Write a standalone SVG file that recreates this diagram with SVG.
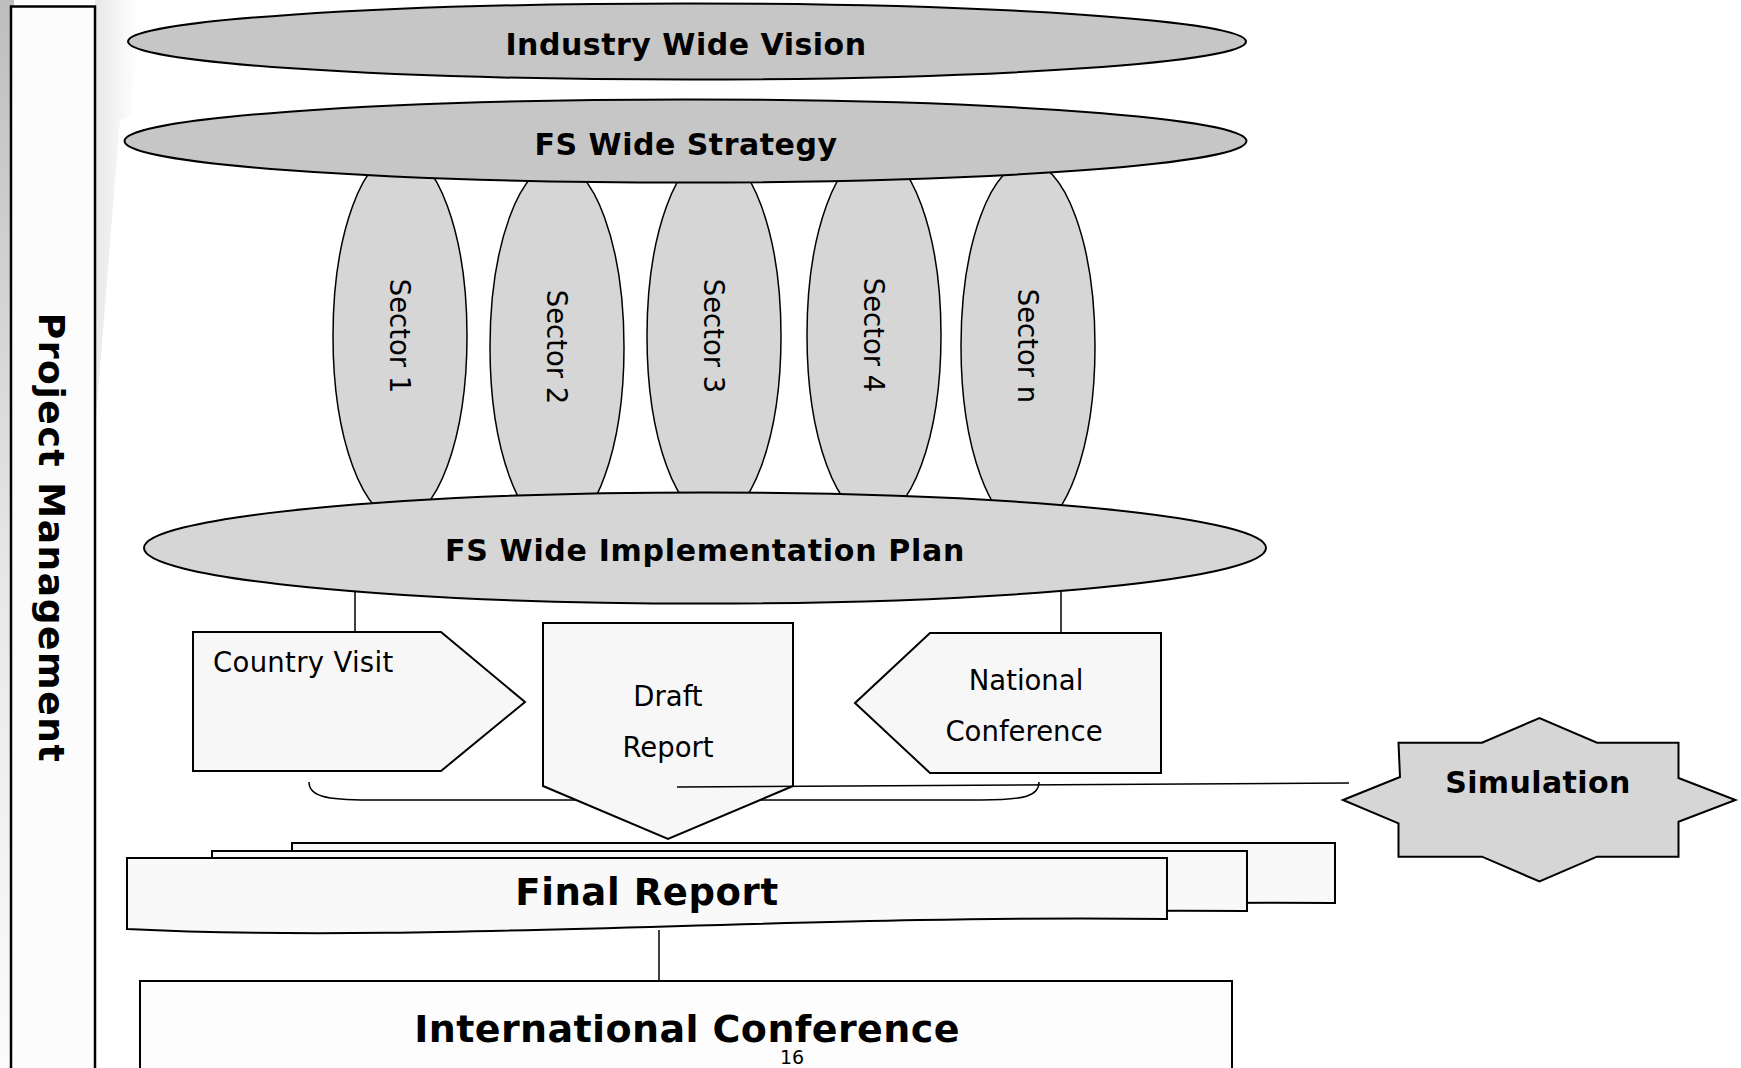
<svg xmlns="http://www.w3.org/2000/svg" width="1741" height="1068" viewBox="0 0 1741 1068">
  <defs>
    <linearGradient id="edge" x1="0" y1="0" x2="0" y2="1">
      <stop offset="0" stop-color="#bebebe"/>
      <stop offset="0.55" stop-color="#e8e8e8"/>
      <stop offset="1" stop-color="#fbfbfb"/>
    </linearGradient>
    <linearGradient id="sheen" x1="0" y1="0" x2="1" y2="0">
      <stop offset="0" stop-color="#e4e4e4"/>
      <stop offset="1" stop-color="#ffffff"/>
    </linearGradient>
    <style>
      .big { fill: #c6c6c6; stroke: #000; stroke-width: 2; }
      .mid { fill: #d6d6d6; stroke: #000; stroke-width: 2; }
      .sec { fill: #d6d6d6; stroke: #000; stroke-width: 1.5; }
      .box { fill: #f7f7f7; stroke: #000; stroke-width: 2; }
      .doc { fill: #f9f9f9; stroke: #000; stroke-width: 2; }
      .line { fill: none; stroke: #000; stroke-width: 1.5; }
      .tb { font-family: "DejaVu Sans", Verdana, sans-serif; font-weight: bold; fill: #000; text-anchor: middle; }
      .tr { font-family: "DejaVu Sans", Verdana, sans-serif; fill: #000; text-anchor: middle; font-size: 27.5px; }
    </style>
  </defs>

  <!-- background -->
  <rect x="0" y="0" width="1741" height="1068" fill="#ffffff"/>
  <rect x="0" y="0" width="14" height="1068" fill="url(#edge)"/>
  <polygon points="95,0 138,0 132,115 120,120 95,430" fill="url(#sheen)" opacity="0.85"/>

  <!-- Project Management -->
  <g id="project-management">
    <rect x="11" y="6.5" width="84" height="1070" fill="#fcfcfc" stroke="#000" stroke-width="2.5"/>
    <text class="tb" font-size="36" letter-spacing="1.6" transform="translate(44,538) rotate(90)" x="0" y="5">Project Management</text>
  </g>

  <!-- Industry Wide Vision -->
  <g id="industry-wide-vision">
    <ellipse class="big" cx="687" cy="41.5" rx="559" ry="38"/>
    <text class="tb" font-size="30" letter-spacing="0.5" x="686" y="55">Industry Wide Vision</text>
  </g>

  <!-- Sectors -->
  <g id="sector-1">
    <ellipse class="sec" cx="400" cy="336" rx="67" ry="184"/>
    <text class="tr" transform="translate(400,336) rotate(90)" x="0" y="10">Sector 1</text>
  </g>
  <g id="sector-2">
    <ellipse class="sec" cx="557" cy="347" rx="67" ry="184"/>
    <text class="tr" transform="translate(557,347) rotate(90)" x="0" y="10">Sector 2</text>
  </g>
  <g id="sector-3">
    <ellipse class="sec" cx="714" cy="336" rx="67" ry="184"/>
    <text class="tr" transform="translate(714,336) rotate(90)" x="0" y="10">Sector 3</text>
  </g>
  <g id="sector-4">
    <ellipse class="sec" cx="874" cy="335" rx="67" ry="184"/>
    <text class="tr" transform="translate(874,335) rotate(90)" x="0" y="10">Sector 4</text>
  </g>
  <g id="sector-n">
    <ellipse class="sec" cx="1028" cy="346" rx="67" ry="184"/>
    <text class="tr" transform="translate(1028,346) rotate(90)" x="0" y="10">Sector n</text>
  </g>

  <!-- FS Wide Strategy -->
  <g id="fs-wide-strategy">
    <ellipse class="big" cx="685.5" cy="141" rx="561" ry="41.5"/>
    <text class="tb" font-size="30" letter-spacing="0.5" x="686" y="155">FS Wide Strategy</text>
  </g>

  <!-- FS Wide Implementation Plan -->
  <g id="fs-wide-implementation-plan">
    <ellipse class="mid" cx="705" cy="548" rx="561" ry="55.5"/>
    <text class="tb" font-size="30" letter-spacing="0.7" x="705" y="561">FS Wide Implementation Plan</text>
  </g>

  <!-- Brace grouping -->
  <g id="brace">
    <path class="line" stroke-width="2" d="M309,782 C309,796 325,800 369,800 L981,800 C1025,800 1039,796 1039,782"/>
  </g>

  <!-- Country Visit -->
  <g id="country-visit">
    <polygon class="box" points="193,632 441,632 525,702 441,771 193,771"/>
    <text class="tr" style="text-anchor:start" font-size="28" letter-spacing="0.3" x="213" y="672">Country Visit</text>
  </g>

  <!-- Draft Report -->
  <g id="draft-report">
    <polygon class="box" points="543,623 793,623 793,786 668,839 543,786"/>
    <text class="tr" x="668" y="706">Draft</text>
    <text class="tr" x="668" y="757">Report</text>
  </g>

  <!-- National Conference -->
  <g id="national-conference">
    <polygon class="box" points="855,703 930,633 1161,633 1161,773 930,773"/>
    <text class="tr" x="1026" y="690">National</text>
    <text class="tr" x="1024" y="741">Conference</text>
  </g>

  <!-- Simulation -->
  <g id="simulation">
    <polygon class="mid" points="1343,800 1400,777 1398.5,742.7 1482,742.7 1539.5,718 1597,742.7 1678.5,742.7 1678.5,778 1735.5,800 1678.5,821.7 1678.5,856.7 1597,856.7 1539.5,881.5 1482,856.7 1398.5,856.7 1398.5,823.3"/>
    <text class="tb" font-size="30" letter-spacing="0.4" x="1538" y="793">Simulation</text>
  </g>

  <!-- Final Report (stacked documents) -->
  <g id="final-report">
    <path class="doc" d="M292,843 H1335 V903 C1000,900 600,922 292,915 Z"/>
    <path class="doc" d="M212,851 H1247 V911 C900,908 500,930 212,923 Z"/>
    <path class="doc" d="M127,858 H1167 V919 C800,914 420,944 127,929 Z"/>
    <text class="tb" font-size="37" letter-spacing="0.6" x="647" y="905">Final Report</text>
  </g>

  <!-- International Conference -->
  <g id="international-conference">
    <rect x="140" y="981" width="1092" height="100" fill="#fdfdfd" stroke="#000" stroke-width="2"/>
    <text class="tb" font-size="38" letter-spacing="0.4" x="687" y="1042">International Conference</text>
  </g>

  <!-- page number -->
  <text id="page-number" font-family="'DejaVu Sans', Verdana, sans-serif" font-size="19" text-anchor="middle" x="792" y="1064">16</text>

  <!-- connectors -->
  <g id="connectors">
    <line class="line" x1="355" y1="591" x2="355" y2="632"/>
    <line class="line" x1="1061" y1="591" x2="1061" y2="633"/>
    <line class="line" x1="677" y1="787" x2="1349" y2="783"/>
    <line class="line" x1="659" y1="930" x2="659" y2="981"/>
  </g>
</svg>
